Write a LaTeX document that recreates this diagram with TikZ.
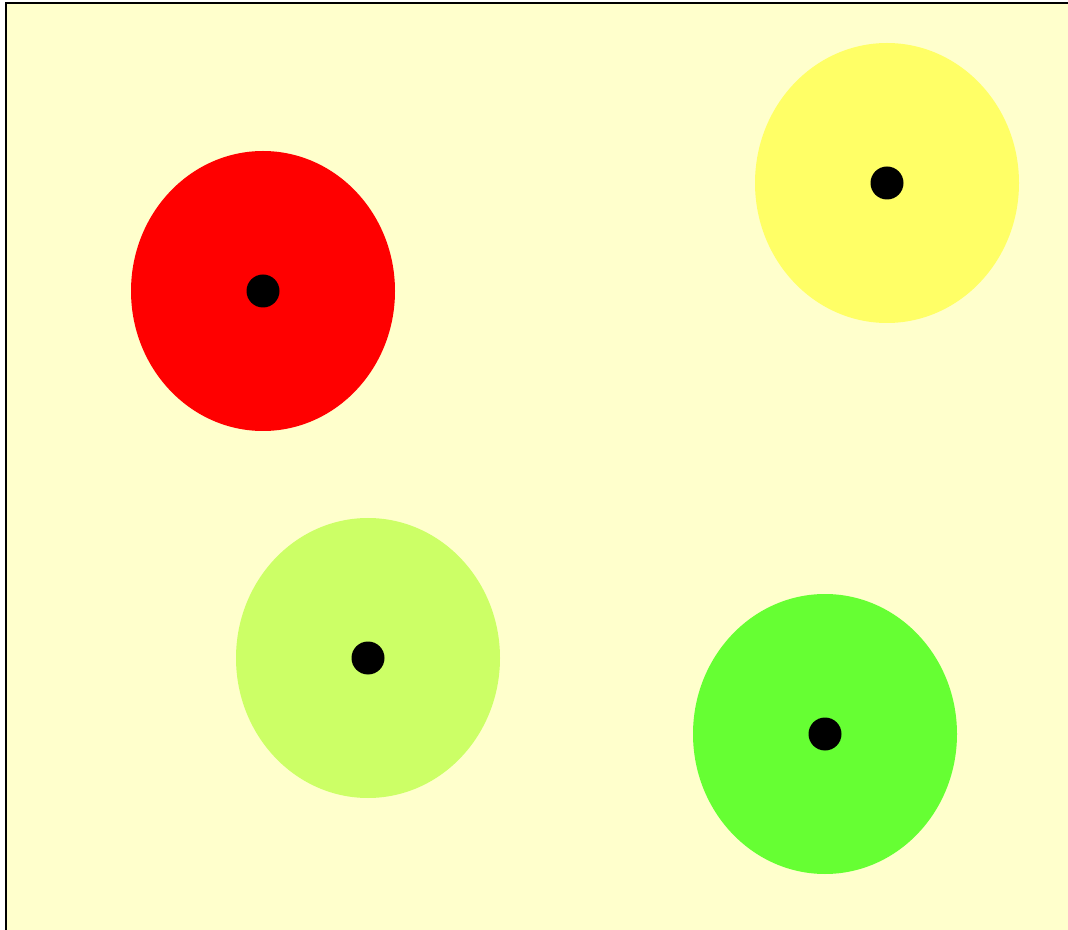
\documentclass[tikz,border=0pt]{standalone}
\usetikzlibrary{shapes.geometric}

\definecolor{paper}{HTML}{FFFFCC}
\definecolor{discred}{HTML}{FF0000}
\definecolor{discyellow}{HTML}{FFFF66}
\definecolor{disclime}{HTML}{CCFF66}
\definecolor{discgreen}{HTML}{66FF33}

\begin{document}
\begin{tikzpicture}[
    x=0.75pt, y=-0.75pt,
    % --- Styles ---
    board/.style={draw=black, line width=1.5pt, fill=paper},
    disc/.style={ellipse, fill=#1, draw=none, minimum width=198pt, minimum height=210pt, inner sep=0pt},
    pin/.style={circle, fill=black, draw=none, minimum size=24.75pt, inner sep=0pt},
]
    \useasboundingbox (0,0) rectangle (1068,930);

    % ==========================
    % 1. BACKGROUND
    % ==========================
    \draw[board] (6,3) rectangle (1075,940);

    % ==========================
    % 2. DISCS
    % ==========================
    \node[disc=discred] (red) at (263,291) {};
    \node[disc=discyellow] (yellow) at (887,183) {};
    \node[disc=disclime] (lime) at (368,658) {};
    \node[disc=discgreen] (green) at (825,734) {};

    % ==========================
    % 3. CENTRE PINS
    % ==========================
    \node[pin] (redpin) at (red.center) {};
    \node[pin] (yellowpin) at (yellow.center) {};
    \node[pin] (limepin) at (lime.center) {};
    \node[pin] (greenpin) at (green.center) {};

\end{tikzpicture}
\end{document}
